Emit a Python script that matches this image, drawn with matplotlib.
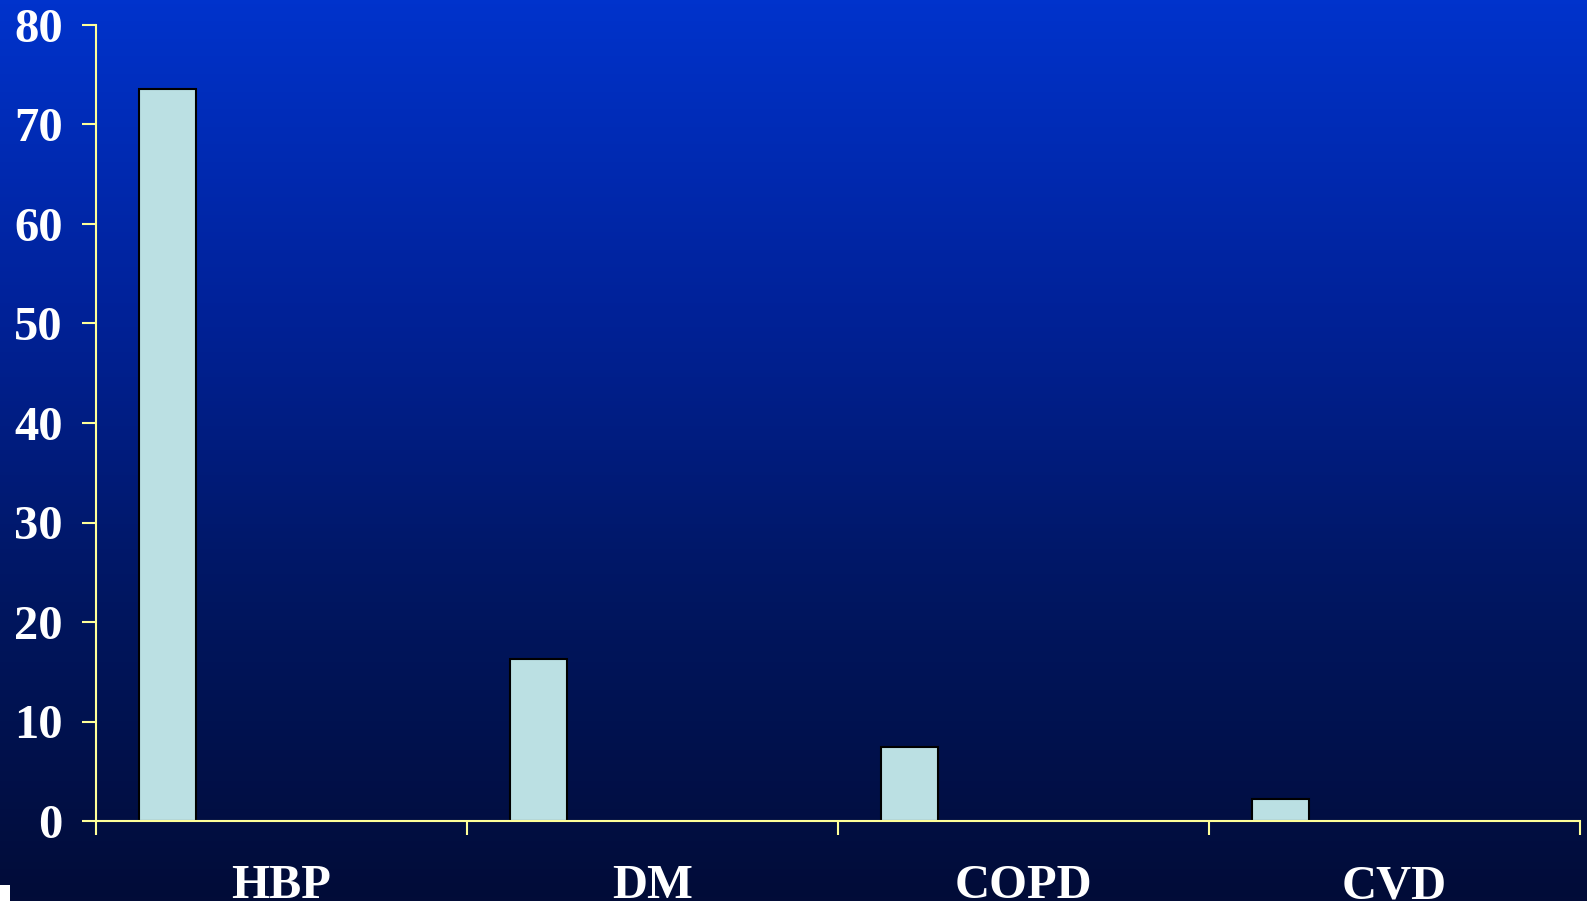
import numpy as np
import matplotlib.pyplot as plt
from matplotlib.colors import LinearSegmentedColormap
from matplotlib.patches import Rectangle

# values per condition
categories = ['HBP', 'DM', 'COPD', 'CVD']
values = [73.6, 16.3, 7.4, 2.2]
yticks = [0, 10, 20, 30, 40, 50, 60, 70, 80]

fig = plt.figure(figsize=(15.87, 9.01), dpi=100)

# vertical blue gradient behind everything
bg = fig.add_axes([0, 0, 1, 1], zorder=0)
grad = np.linspace(0, 1, 256).reshape(-1, 1)
cmap = LinearSegmentedColormap.from_list(
    'bg', ['#0033CC', '#00229A', '#001660', '#020C38'])
bg.imshow(grad, aspect='auto', cmap=cmap, extent=[0, 1, 0, 1])
bg.set_axis_off()
fig.patches.append(Rectangle((0, 0), 10 / 1587, 16 / 901, transform=fig.transFigure,
                             facecolor='white', edgecolor='none', zorder=5))

ax = fig.add_axes([96 / 1587, 1 - 821 / 901, (1580 - 96) / 1587, (821 - 25) / 901], zorder=1)
ax.patch.set_alpha(0)

# each bar sits in the first slot of a five-slot group
slot = 1 / 6.5
x = np.arange(len(categories)) + 0.75 * slot
ax.bar(x, values, width=slot, align='edge', color='#BBE0E3',
       edgecolor='black', linewidth=1.5, zorder=2)

ax.set_xlim(0, len(categories))
ax.set_ylim(0, 80)

yel = '#FFFF99'
for side in ['top', 'right']:
    ax.spines[side].set_visible(False)
for side in ['left', 'bottom']:
    ax.spines[side].set_color(yel)
    ax.spines[side].set_linewidth(1.5)
    ax.spines[side].set_zorder(3)

font = dict(family=['Liberation Serif', 'DejaVu Serif'], weight='bold', size=35)

ax.set_yticks(yticks)
ax.set_yticklabels([str(t) for t in yticks], color='white', **font)
ax.tick_params(axis='y', direction='out', length=10, width=1.5, color=yel, pad=14)

ax.set_xticks(np.arange(len(categories) + 1))
ax.set_xticklabels([])
ax.tick_params(axis='x', which='major', direction='out', length=10, width=1.5, color=yel)
ax.set_xticks(np.arange(len(categories)) + 0.5, minor=True)
ax.set_xticklabels(categories, minor=True, color='white', **font)
ax.tick_params(axis='x', which='minor', length=0, pad=31)

fig.savefig('out.png', dpi=100)
